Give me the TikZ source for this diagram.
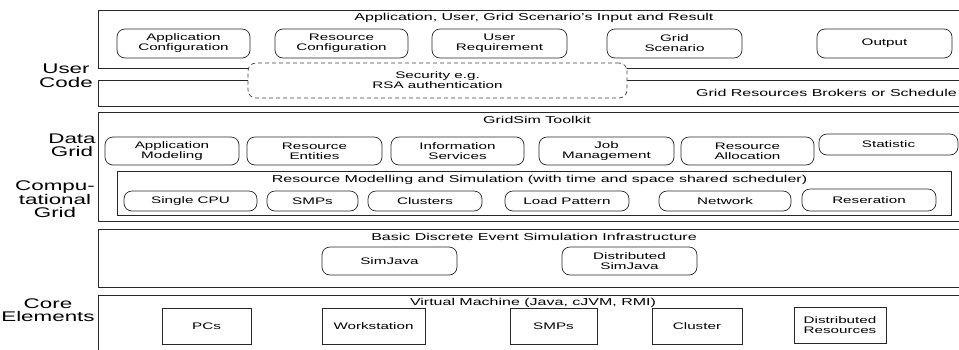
\documentclass[tikz,border=0pt]{standalone}
\usepackage{fontspec}
\setmainfont{Liberation Sans}[FakeStretch=1.6]
\begin{document}
\begin{tikzpicture}[x=1pt,y=-1pt,
  bigbox/.style={draw=black!85, line width=0.7pt, inner sep=0pt},
  rbox/.style={draw=black!85, line width=0.7pt, rounded corners=8pt, inner sep=0pt, align=center,
    font=\fontsize{9.5}{10}\selectfont},
  sbox/.style={draw=black!85, line width=0.7pt, inner sep=0pt, align=center,
    font=\fontsize{9.5}{10}\selectfont},
  secbox/.style={draw=black!75, dashed, dash pattern=on 4pt off 3pt, line width=0.7pt, rounded corners=8pt,
    fill=white, inner sep=0pt, align=center, font=\fontsize{9.5}{10}\selectfont},
  title/.style={inner sep=0pt, font=\fontsize{10}{11}\selectfont},
  lab/.style={inner sep=0pt, align=center, font=\fontsize{14}{13.5}\selectfont}]
\useasboundingbox (0,0) rectangle (959,349);

% big layer boxes
\node[bigbox, minimum width=863pt, minimum height=58pt] (b1) at (529.5,39) {};
\node[bigbox, minimum width=863pt, minimum height=26pt] (b2) at (529.5,93) {};
\node[bigbox, minimum width=863pt, minimum height=109pt] (b3) at (529.5,166.5) {};
\node[bigbox, minimum width=863pt, minimum height=58pt] (b4) at (529.5,258) {};
\node[bigbox, minimum width=863pt, minimum height=57pt] (b5) at (529.5,323.5) {};

% left labels
\node[lab] (luser) at (66,75.5) {User\\Code};
\node[lab] (ldata) at (72,145) {Data\\Grid};
\node[lab] (lcomp) at (55,199.5) {Compu-\\tational\\Grid};
\node[lab] (lcore) at (48,310) {Core\\Elements};

% layer 1
\node[title] (t1) at (534,18) {Application, User, Grid Scenario's Input and Result};
\node[rbox, minimum width=133pt, minimum height=29pt] (appconf) at (183.5,43.5) {Application\\Configuration};
\node[rbox, minimum width=133pt, minimum height=29pt] (resconf) at (341.5,43.5) {Resource\\Configuration};
\node[rbox, minimum width=135pt, minimum height=29pt] (userreq) at (499.5,43.5) {User\\Requirement};
\node[rbox, minimum width=135pt, minimum height=29pt] (gridscen) at (674.5,43.5) {Grid\\Scenario};
\node[rbox, minimum width=135pt, minimum height=29pt] (output) at (884.5,43.5) {Output};

% layer 2
\node[title, anchor=west] (t2) at (696,93) {Grid Resources Brokers or Schedule};
\node[secbox, minimum width=379pt, minimum height=35pt] (sec) at (437.5,80.5) {Security e.g.\\RSA authentication};

% layer 3
\node[title] (t3) at (537,120) {GridSim Toolkit};
\node[rbox, minimum width=134pt, minimum height=28pt] (appmod) at (172,151) {Application\\Modeling};
\node[rbox, minimum width=135pt, minimum height=28pt] (resent) at (314.5,151) {Resource\\Entities};
\node[rbox, minimum width=133pt, minimum height=28pt] (infoserv) at (457.5,151) {Information\\Services};
\node[rbox, minimum width=135pt, minimum height=28pt] (jobman) at (606.5,151) {Job\\Management};
\node[rbox, minimum width=133pt, minimum height=28pt] (resalloc) at (747.5,151) {Resource\\Allocation};
\node[rbox, minimum width=139pt, minimum height=21pt] (stat) at (888.5,144.5) {Statistic};

\node[bigbox, minimum width=834pt, minimum height=44pt] (rm) at (534,193) {};
\node[title] (t3b) at (539.5,180) {Resource Modelling and Simulation (with time and space shared scheduler)};
\node[rbox, minimum width=133pt, minimum height=20pt] (cpu) at (190.5,201) {Single CPU};
\node[rbox, minimum width=91pt, minimum height=20pt] (smps1) at (312.5,201) {SMPs};
\node[rbox, minimum width=114pt, minimum height=20pt] (clusters) at (425,201) {Clusters};
\node[rbox, minimum width=124pt, minimum height=20pt] (load) at (567,201) {Load Pattern};
\node[rbox, minimum width=132pt, minimum height=20pt] (network) at (725,201) {Network};
\node[rbox, minimum width=134pt, minimum height=22pt] (reser) at (869,200) {Reseration};

% layer 4
\node[title] (t4) at (534,237) {Basic Discrete Event Simulation Infrastructure};
\node[rbox, minimum width=135pt, minimum height=28pt] (simjava) at (389.5,261) {SimJava};
\node[rbox, minimum width=135pt, minimum height=28pt] (dsimjava) at (629.5,261) {Distributed\\SimJava};

% layer 5
\node[title] (t5) at (533,303) {Virtual Machine (Java, cJVM, RMI)};
\node[sbox, minimum width=89pt, minimum height=36pt] (pcs) at (206.5,326) {PCs};
\node[sbox, minimum width=103pt, minimum height=36pt] (ws) at (373.5,326) {Workstation};
\node[sbox, minimum width=87pt, minimum height=36pt] (smps2) at (553.5,326) {SMPs};
\node[sbox, minimum width=90pt, minimum height=36pt] (cluster) at (697,326) {Cluster};
\node[sbox, minimum width=92pt, minimum height=36pt] (distres) at (840,325) {Distributed\\Resources};
\end{tikzpicture}
\end{document}
